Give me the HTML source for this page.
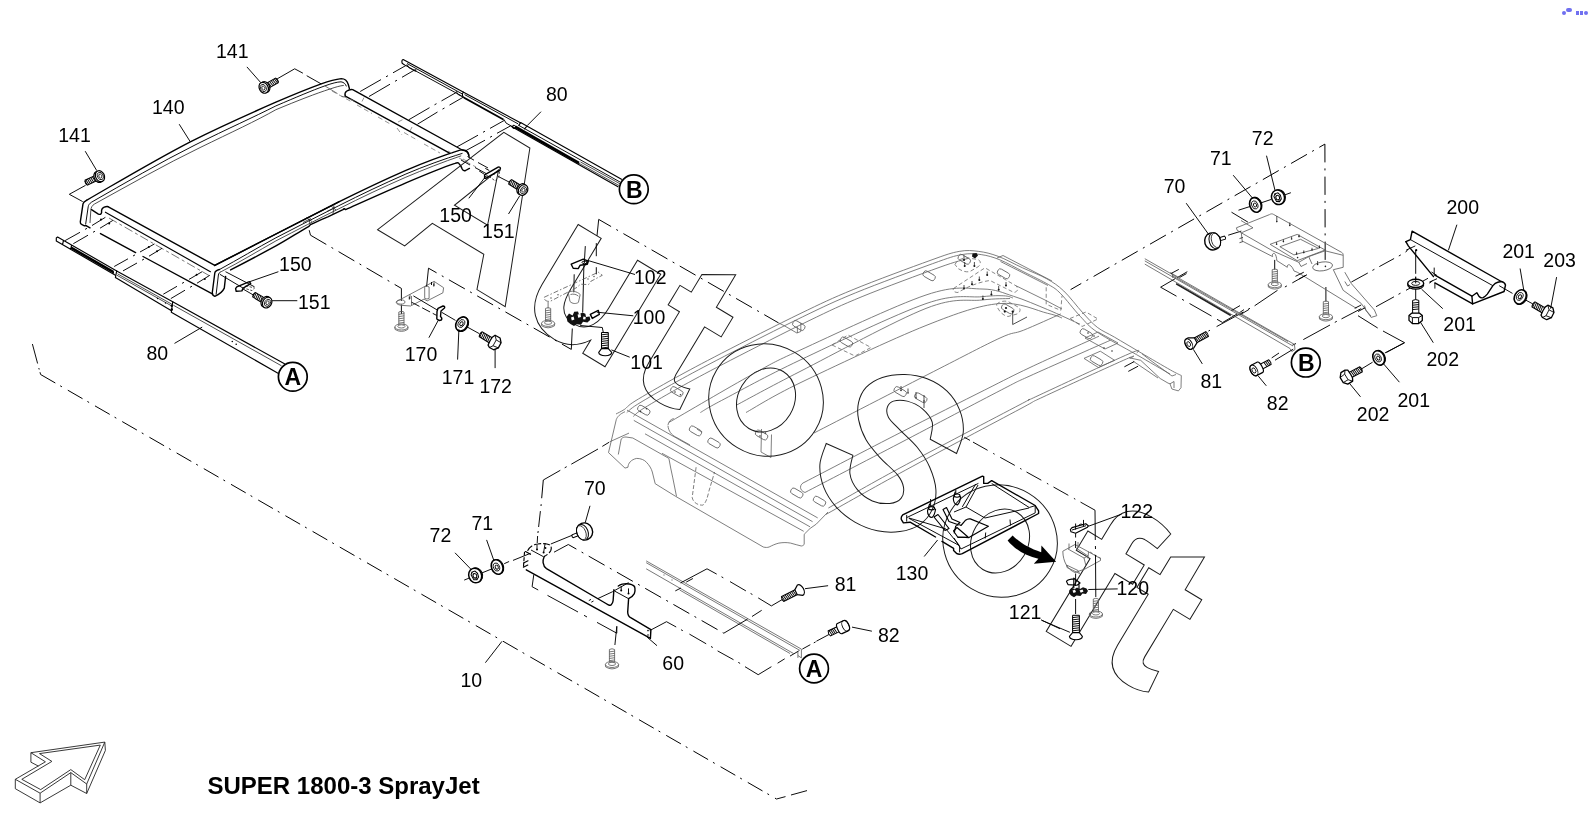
<!DOCTYPE html>
<html><head><meta charset="utf-8"><title>SUPER 1800-3 SprayJet</title>
<style>
html,body{margin:0;padding:0;background:#fff;}
body{width:1589px;height:822px;overflow:hidden;font-family:"Liberation Sans",sans-serif;}
svg{display:block;position:absolute;left:0;top:0;}
svg text{font-family:"Liberation Sans",sans-serif;}
svg{will-change:transform;}
.k{fill:none;stroke:#000;stroke-width:.95;stroke-linecap:butt;stroke-linejoin:round}
.t{fill:none;stroke:#000;stroke-width:1.4;stroke-linecap:round;stroke-linejoin:round}
.m{fill:none;stroke:#000;stroke-width:1.15;stroke-linecap:round;stroke-linejoin:round}
.n{fill:none;stroke:#222;stroke-width:0.8}
.g{fill:none;stroke:#606060;stroke-width:0.85}
.gd{fill:none;stroke:#7a7a7a;stroke-width:0.8;stroke-dasharray:5 3}
.w{fill:none;stroke:#222;stroke-width:1}
.dd{fill:none;stroke:#000;stroke-width:1;stroke-dasharray:17 5.6 2 6.8}
.cd{fill:none;stroke:#000;stroke-width:1;stroke-dasharray:18.3 6 2 6.2}
.lb{font-size:19.5px;fill:#000}
</style></head><body>
<svg width="1589" height="822" viewBox="0 0 1589 822">
<defs>
<!-- pan head screw, head at origin, shaft along +x -->
<g id="scr">
<path d="M3 -2.7 L15 -2.7 Q16.6 0 15 2.7 L3 2.7 Z" fill="#fff" stroke="#000" stroke-width="1"/>
<path d="M6.2 -2.7 L7 2.7 M8 -2.7 L8.8 2.7 M9.8 -2.7 L10.6 2.7 M11.6 -2.7 L12.4 2.7 M13.4 -2.7 L14.2 2.7 M15 -2.5 L15.6 2" fill="none" stroke="#000" stroke-width=".9"/>
<ellipse cx="1.6" cy="0" rx="4.2" ry="5.7" fill="#fff" stroke="#000" stroke-width="1.2"/>
<ellipse cx="-0.2" cy="0" rx="4.4" ry="5.7" fill="#fff" stroke="#000" stroke-width="1.2"/>
<ellipse cx="-0.6" cy="0" rx="2.8" ry="3.8" fill="none" stroke="#000" stroke-width=".8"/>
<path d="M-2.2 0 L-1.4 -1.9 L0.2 -1.9 L1 0 L0.2 1.9 L-1.4 1.9 Z" fill="none" stroke="#000" stroke-width=".7"/>
</g>
<!-- hex bolt, head at origin, shaft along +x -->
<g id="hexb">
<path d="M4 -2.9 L17 -2.9 Q18.6 0 17 2.9 L4 2.9 Z" fill="#fff" stroke="#000" stroke-width="1"/>
<path d="M7.2 -2.9 L8 2.9 M9 -2.9 L9.8 2.9 M10.8 -2.9 L11.6 2.9 M12.6 -2.9 L13.4 2.9 M14.4 -2.9 L15.2 2.9 M16.2 -2.8 L17 2.4" fill="none" stroke="#000" stroke-width=".9"/>
<path d="M5 -5.4 L5.6 -1 L5.6 3.5 L4.2 6.6 L-1.5 6.9 L-4.8 3.4 L-5.2 -2.4 L-2.2 -6.5 L2.6 -6.8 Z" fill="#fff" stroke="#000" stroke-width="1.3" stroke-linejoin="round"/>
<path d="M2.6 -6.8 L0.4 -3.4 L0.8 3.2 L4.2 6.6 M0.4 -3.4 L-5.2 -2.4 M0.8 3.2 L-4.8 3.4" fill="none" stroke="#000" stroke-width=".8"/>
</g>
<!-- washer seen from side-ish -->
<g id="wash">
<ellipse cx="1" cy="0" rx="5.4" ry="7.4" fill="#fff" stroke="#000" stroke-width="1.1"/>
<ellipse cx="0" cy="0" rx="5.6" ry="7.5" fill="#fff" stroke="#000" stroke-width="1.6"/>
<ellipse cx="-0.6" cy="-0.2" rx="3" ry="4.2" fill="none" stroke="#000" stroke-width=".8"/>
<ellipse cx="-0.4" cy="0" rx="1.5" ry="2.1" fill="none" stroke="#000" stroke-width=".9"/>
</g>
<!-- flange nut -->
<g id="nut">
<ellipse cx="1.2" cy="0" rx="6.2" ry="7.3" fill="#fff" stroke="#000" stroke-width="1.1"/>
<ellipse cx="0" cy="0" rx="6.4" ry="7.4" fill="#fff" stroke="#000" stroke-width="1.5"/>
<path d="M-3.6 -2 L-1.8 -4.4 L1.4 -4.2 L3 -1.2 L2.6 2.6 L0 4.6 L-2.8 3.4 Z" fill="none" stroke="#000" stroke-width="1"/>
<ellipse cx="-0.4" cy="0.2" rx="1.8" ry="2.3" fill="none" stroke="#000" stroke-width="1"/>
<path d="M-1.8 -4.4 L-0.8 -2 M3 -1.2 L1.2 -0.4 M0 4.6 L-0.2 2.4" fill="none" stroke="#000" stroke-width=".7"/>
</g>
<!-- rubber buffer, stud towards +x -->
<g id="buf">
<path d="M5 -1.6 L13 -1.6 Q14.2 0 13 1.6 L5 1.6 Z" fill="#fff" stroke="#000" stroke-width="1"/>
<ellipse cx="0" cy="0" rx="7.8" ry="8.6" fill="#fff" stroke="#000" stroke-width="1.4"/>
<ellipse cx="2.4" cy="0" rx="5.6" ry="8.2" fill="#fff" stroke="#000" stroke-width="1"/>
<ellipse cx="3.6" cy="0" rx="4.4" ry="7.4" fill="none" stroke="#000" stroke-width=".7"/>
</g>
<!-- gray vertical self tapping screw, tip at top (0,0), head at bottom -->
<g id="gscr" fill="none" stroke="#606060" stroke-width=".85">
<path d="M-2.6 0 L-2.6 13 M2.6 0 L2.6 13 M-2.6 0 Q0 -1.5 2.6 0 M-2.8 2.4 L2.8 1.6 M-2.8 4.6 L2.8 3.8 M-2.8 6.8 L2.8 6 M-2.8 9 L2.8 8.2 M-2.8 11.2 L2.8 10.4"/>
<ellipse cx="0" cy="15" rx="6.6" ry="3"/><path d="M-6.6 15 L-6.4 17.4 Q0 21.4 6.4 17.4 L6.6 15"/><ellipse cx="0" cy="14.4" rx="3.6" ry="1.6"/>
</g>
</defs>
<!-- boundary 10 -->
<g id="boundary">
<path class="k" d="M32.4 344 L37.6 363.5 M38.8 368 L39.2 369.5 M40 372.2 L40.6 374.5"/>
<path class="dd" d="M40.6 374.5 L776.5 799" />
<path class="k" d="M776.5 799 L785.5 796.6 M791 795 L807 790.6"/>
</g>
<!-- window frame 140 -->
<g id="window">
<!-- back (upper) arc -->
<path class="t" d="M86.5 200.3 C120 181 155 160 190.3 141.8 C225 124.5 250 113.5 275.9 102.2 C296 93.5 310 88 321.2 83.9 C330 80.7 336 79.2 341.3 78.6 C344.5 78.6 347 80.5 348.3 84.5 L349.3 88.3"/>
<path class="k" d="M91.5 202.2 C125 183 160 162.5 195 145 C228 128.5 253 117.5 275.9 105.9 C296 97.3 312 90.5 325 85.8 C332 83.3 337 82 341 81.8 C344 82.3 345.5 84 346.4 86.4"/>
<path class="n" d="M94.5 204 C130 184.5 165 164.5 200 147.6 C232 132 256 121 275.9 109.7 C298 100.5 316 93.5 330 89 C336 87 340 85.8 343.8 85.4"/>
<!-- left leg of back-left corner -->
<path class="t" d="M86.5 200.3 C84.5 201.3 83.3 202.3 83 203.8 L80.3 221.8 C80.1 223.2 80.7 224 82 224.6 L84.5 225.8 L86 225.6"/>
<path class="k" d="M91.5 202.2 C89.5 203.6 88.4 205 88.2 206.8 L85.6 224.5"/>
<path class="n" d="M94.5 204 C92 205.5 91 207.5 90.8 210.5 L90 223"/>
<!-- notch to left bar -->
<path class="t" d="M91.5 209.7 L98.4 214.1 C100 214.7 101.3 214.5 101.6 212.3 C101.2 209.8 102.2 208.2 104.2 207.2 C106 206.4 107.2 206.3 107.9 206.6"/>
<!-- left bar -->
<path class="t" d="M107.9 206.6 L214.8 265.4"/>
<path class="m" d="M105.4 212.2 L210.4 271.7"/>
<path class="g" d="M109 218 L209 275.5" stroke-dasharray="9 3 3 3"/>
<!-- left face bottom edge -->
<path class="t" d="M86 225.6 L90 227.8 M100.5 233.6 L135.6 252.6 M143 256.5 L212.3 293.8"/>
<!-- front-left leg -->
<path class="t" d="M214.8 265.4 L338.8 201.9"/>
<path class="t" d="M219.5 269.5 C216.5 270.3 215 271.3 214.8 273 L212.3 292.5 C212.2 294.6 213.2 295.8 214.8 296.3 C219 294.5 222.5 292 224.3 288.1 L225.6 276.5"/>
<path class="k" d="M221.5 271.5 C219.5 272.3 218.6 273.3 218.4 275 L216.1 294.6"/>
</g>
<g id="window2">
<!-- front arc -->
<path class="t" d="M214.8 265.4 C235 255 255 244.6 275.9 234 C297 223.2 318 212.4 338.8 201.9 C361 190.8 383 180.3 405.9 170.3 C424 162.6 443 155.5 460 150.1 C463.5 149.5 466 150 467.5 152 L468.8 155.2"/>
<path class="k" d="M219.5 269.5 C238 259.5 257 248 275.9 237.8 C297 227 318 216 338.8 205.7 C361 194.5 383 184 405.9 174 C424 166.3 444 159 462.5 153.3"/>
<path class="n" d="M221.5 271.5 C240 262 258 251 275.9 240.9 C297 230 318 219 338.8 208.8 C361 197.6 383 187.1 405.9 177.2 C424 169.5 443 162 461.2 155.8"/>
<path class="t" d="M230.6 269.9 C246 262 261 254 275.9 245.9 C287 240 298 232.5 309 226.3 L310.2 224.8 C317 221.5 322 219 327.8 216.8 L343 209.6 L344.2 208.6 L345.6 209.6 C366 200.5 386 191.5 405.9 182.9 C423 175.6 440 168.5 455 163.4 C457 162.6 458.2 162.6 458.9 163.4 C460.5 165 461.5 167 462.2 169 C462.8 170.5 464 171 465.6 170.5 L469.4 168.4"/>
<!-- small clip marks on front arc -->
<path class="n" d="M303 222.5 L311 218.5 M306 217.5 L312 221.5 M309 219 L310 224 M327 211.5 L335 207.5 M331 206 L336 210 M334 205.5 L333 214"/>
<!-- right bar -->
<path class="t" d="M345.3 96.2 C344.6 94 345 92.3 346.5 91.2 C348.5 89.8 350.7 89.2 352.7 89.6 L462.2 150 C465.5 150.6 467.8 152 468.5 153.8 L469.1 156.9"/>
<path class="t" d="M345.3 96.2 L449.6 153.1"/>
<!-- hidden gray lines under right bar -->
<path class="gd" d="M332 91 L352 102 M357 105 L372 113.5 M378 117 L392 125 M397 128 L402 135 M404 132.5 L418 140.5 M424 144 L440 153" />
<path class="gd" d="M350 99 L356 102.5 M364 97.5 L362 101.5 M398 122 L404 119 M412 127 L410 131 M448 151 L456 155.5 M463 159 L470 163 M459 158 L476 167"/>
<!-- lines from right corner to bracket150 -->
<path class="k" d="M467.5 156.5 L474 160.2 M478 162.5 L488 168 M461 160 L470 165 M475 167.5 L486 173.5" />
</g>
<g id="rails">
<!-- lower-left rail 80 -->
<path class="m" d="M57.6 237 L116.7 270.9 M56.3 240.9 L115.4 275.3 M57.6 237 L56.3 238 L56.3 240.9 M63.5 240.3 L62.6 244.3 M71.6 245 L70.8 249"/>
<path d="M71.2 246.2 L113.8 270.8 L114.2 274 L70.9 249 Z" fill="#000"/>
<path class="m" d="M116.7 270.9 L172.7 301.8 M115.4 277.6 L171.5 310.8 M116.7 270.9 L115.4 277.6"/>
<path class="n" d="M117.5 273.8 L171.8 304.2 M117 275.3 L171.4 305.8"/>
<path class="m" d="M172.7 301.8 L284.5 363.8 M171.3 312.3 L278 373.2 M172.7 301.8 L171.3 312.3"/>
<path class="n" d="M173.3 305.2 L281.5 365.8"/>
<circle cx="157.5" cy="298.5" r=".7"/><circle cx="165.5" cy="303" r=".7"/><circle cx="171.8" cy="305.8" r="1.2"/><circle cx="171.8" cy="309.5" r="1.2"/>
<circle cx="232.3" cy="341.5" r=".8"/><circle cx="236.2" cy="344.3" r=".8"/>
<!-- centre lines rail -> window left bar -->
<g class="k">
<path d="M65.1 240.6 L80 232.3 M85 229.4 L87 228.3 M92 225.5 L105.4 217.3"/>
<path d="M73.3 243.7 L88 235.2 M93 232.3 L95 231.2 M100 228.2 L112.9 220.4"/>
<path d="M114.2 266.5 L128 258.8 M133 256 L135 254.9 M140 252 L154.5 243.9"/>
<path d="M123 270.9 L137 263 M142 260.2 L144 259.1 M149 256.2 L162 248.3"/>
<path d="M163.3 294.2 L177 286.3 M182 283.4 L184 282.3 M189 279.4 L202.3 271.6"/>
<path d="M170.8 298.6 L185 290.2 M190 287.3 L192 286.2 M197 283.2 L209.8 275.3"/>
</g>
<circle cx="101" cy="219.4" r="1"/><circle cx="109.2" cy="223.4" r="1"/><circle cx="148.8" cy="247" r="1"/><circle cx="157" cy="251.2" r="1"/><circle cx="196.6" cy="274.7" r="1"/><circle cx="204.8" cy="279" r="1"/>
<!-- upper-right rail 80 -->
<path class="m" d="M403.2 59.5 L463.6 92.2 M403.2 59.5 C401.8 59.8 401.6 61.5 402.2 63.2 L404 64.6"/>
<path class="k" d="M404 64.6 L461.7 96 M407 63.5 L462 93.8"/>
<path class="k" d="M407.3 64.8 L408.8 67.6 L415.5 71.3 L416 69.6 M456.2 91.2 L457.8 94.3 L464 97.6"/>
<path class="m" d="M463.6 92.2 L520.9 123 M463.6 92.2 C462.3 92.8 462.2 94.5 462.8 96.6"/>
<path class="k" d="M464.6 94.6 L518 123.8"/>
<path d="M463.3 96.3 L503.8 118.7 L503.4 120.6 L463.6 98.6 Z" fill="#000"/>
<path class="k" d="M504 119.5 L506 123 L512.5 126.8 L513.5 124.8 M512.5 126.8 L516 128.6"/>
<path class="m" d="M520.6 122.6 L621.5 179.3 M520.6 122.6 L518.8 125.4 M527 126.2 L524.5 128.9"/>
<path class="k" d="M518.8 125.4 L620 182"/>
<path d="M515.8 125.6 L579.5 161.8 L578.6 164.2 L514.6 128.1 Z" fill="#000"/>
<path class="m" d="M511.5 126.5 L618 186.8"/>
<path class="n" d="M579 163.3 L619 185.5 M580.5 162 L620 183.8"/>
<circle cx="514" cy="127" r="1.6" fill="none" stroke="#000" stroke-width=".9"/>
<!-- centre lines rail -> right bar -->
<g class="k">
<path d="M406.8 65 L393 72.8 M388 75.7 L386 76.8 M381 79.6 L360.2 91.5"/>
<path d="M415.6 69.4 L402 77.3 M397 80.2 L395 81.3 M390 84.2 L369 96.5"/>
<path d="M455.9 92.7 L441.5 100.9 M436.5 103.7 L434.5 104.8 M429.5 107.7 L408.7 119.8"/>
<path d="M463.4 97.1 L449.5 105.1 M444.5 108 L442.5 109.1 M437.5 112 L417.5 124.2"/>
<path d="M504.3 120.4 L490 128.4 M485 131.2 L483 132.3 M478 135.2 L457.1 146.8"/>
<path d="M511.2 125.5 L497 133.3 M492 136.2 L490 137.3 M485 140.2 L465.9 150.6"/>
</g>
</g>
<g id="roof" fill="none" stroke="#5e5e5e" stroke-width=".8">
<path d="M616.0 414.0 C617.4 413.2 621.1 411.6 624.3 409.5 C627.5 407.4 626.6 406.3 635.0 401.1 C643.4 395.9 660.0 386.3 674.5 378.3 C689.0 370.3 700.8 364.0 721.7 353.2 C742.6 342.4 778.1 324.3 800.0 313.7 C821.9 303.1 831.4 298.5 853.1 289.6 C874.8 280.7 912.3 266.9 930.0 260.5 C947.7 254.1 951.1 252.9 959.2 251.4 C967.3 249.9 972.2 250.6 978.7 251.4 C985.2 252.2 990.8 253.6 998.1 256.3 C1005.4 259.0 1014.4 264.1 1022.5 267.8 C1030.6 271.6 1039.9 274.9 1046.8 278.8 C1053.7 282.7 1057.8 285.4 1063.8 291.0 C1069.8 296.6 1077.1 306.6 1082.7 312.7 C1088.3 318.8 1092.0 323.2 1097.3 327.3 C1102.6 331.4 1107.1 332.8 1114.4 337.1 C1121.7 341.4 1131.8 347.4 1141.1 352.9 C1150.4 358.4 1163.6 366.1 1170.3 369.9 C1177.0 373.7 1179.5 374.6 1181.3 375.5"/>
<path d="M626.8 412.7 C628.6 411.3 629.1 409.5 637.5 404.3 C645.9 399.1 662.5 389.5 677.0 381.5 C691.5 373.5 703.3 367.2 724.2 356.4 C745.1 345.6 780.6 327.5 802.5 316.9 C824.4 306.3 833.9 301.7 855.6 292.8 C877.3 283.9 914.8 270.1 932.5 263.7 C950.2 257.3 953.6 256.1 961.7 254.6 C969.8 253.1 974.8 253.7 981.2 254.6 C987.6 255.5 992.9 257.0 1000.0 259.9 C1007.1 262.8 1015.9 267.9 1024.0 272.0 C1032.1 276.1 1042.6 281.1 1048.7 284.7 C1054.8 288.3 1055.5 288.5 1060.8 293.8 C1066.1 299.1 1074.2 310.0 1080.3 316.4 C1086.4 322.8 1088.0 325.8 1097.3 332.2 C1106.6 338.6 1124.2 347.5 1136.3 354.5 C1148.4 361.5 1164.4 370.8 1170.0 374.0"/>
<path d="M633.3 416.5 C635.1 415.1 635.6 413.3 644.0 408.1 C652.4 402.9 669.0 393.3 683.5 385.3 C698.0 377.3 709.8 371.0 730.7 360.2 C751.6 349.4 787.1 331.3 809.0 320.7 C830.9 310.1 840.4 305.5 862.1 296.6 C883.8 287.7 921.3 273.9 939.0 267.5 C956.7 261.1 963.3 259.9 968.2 258.4"/>
<path d="M669.0 422.4 C682.9 414.4 730.3 386.5 752.1 374.5 C773.9 362.5 771.0 363.4 800.0 350.2 C829.0 336.9 895.7 305.2 926.0 295.0 C956.3 284.8 967.4 288.8 982.0 289.0 C996.6 289.2 1002.7 292.9 1013.6 296.3 C1024.5 299.7 1036.5 305.0 1047.6 309.6 C1058.7 314.2 1074.6 321.8 1080.0 324.2"/>
<path d="M700.4 412.5 C704.0 410.5 705.1 409.1 721.7 400.4 C738.3 391.7 766.0 376.2 800.0 360.1 C834.0 344.0 895.7 314.2 926.0 303.6 C956.3 293.0 969.0 298.0 982.0 296.7 C995.0 295.4 998.6 295.6 1003.8 295.8 C1009.0 296.0 1011.5 297.6 1013.0 298.0"/>
<path d="M736.9 404.9 C747.4 399.3 768.5 387.6 800.0 371.5 C831.5 355.4 895.7 320.3 926.0 308.4 C956.3 296.5 968.0 301.6 982.0 300.0 C996.0 298.4 1005.3 298.8 1010.0 298.5"/>
<path d="M746.0 412.5 C755.0 407.6 770.0 397.4 800.0 382.9 C830.0 368.4 892.8 338.7 926.0 325.5 C959.2 312.3 978.7 305.6 999.0 303.6 C1019.3 301.6 1037.1 310.9 1047.6 313.3 C1058.1 315.7 1059.6 317.2 1062.0 318.0"/>
<path d="M814.0 433.0 C833.9 422.8 902.3 387.5 933.3 371.7 C964.3 355.9 985.0 344.9 1000.0 338.0 C1015.0 331.1 1013.2 334.3 1023.3 330.3 C1033.4 326.3 1054.5 316.6 1060.8 313.9"/>
<path d="M805.0 482.0 C820.8 473.8 870.0 448.1 900.0 432.8 C930.0 417.5 963.0 400.9 984.7 390.0 C1006.4 379.1 1011.0 376.5 1030.0 367.5 C1049.0 358.5 1087.5 341.4 1099.0 336.2"/>
<path d="M805.0 492.5 C820.8 484.2 867.3 460.1 900.0 443.0 C932.7 425.9 979.5 401.2 1001.2 390.0 C1022.9 378.8 1011.8 384.2 1030.0 375.9 C1048.2 367.6 1097.2 346.1 1110.7 340.1"/>
<path d="M828.4 508.0 C840.3 501.3 868.1 485.1 900.0 467.9 C931.9 450.7 997.5 416.4 1020.0 404.6 C1042.5 392.8 1017.0 405.5 1035.2 397.0 C1053.4 388.5 1112.1 361.1 1129.0 353.8 C1145.9 346.5 1135.5 353.3 1136.8 353.2"/>
<path d="M826.0 514.4 C839.3 507.0 873.5 487.6 905.8 470.0 C938.1 452.4 997.1 421.2 1020.0 409.0 C1042.9 396.8 1025.3 405.3 1043.0 397.0 C1060.7 388.7 1111.9 365.4 1126.4 359.0 C1141.0 352.6 1129.7 358.5 1130.3 358.4"/>
<path d="M805 482 C799 484 799 490.5 805 492.5 M1084 358.4 L1100.3 351.2 L1114.6 360.3 L1098.4 367.5 Z"/>
<path d="M625 411.7 C620 414 617.5 416.5 616.3 419.5 L608.5 452.6 L625 468.1 L628 467.2 C628 463.5 631 459.5 636.7 458.4 C641 458.4 644.5 460 646.5 462.3 C649.5 465.5 651.3 468.5 652.3 472 L655.2 483.7 L675.7 496.4 L763.3 547 C765.5 547.6 767.5 547.6 769.1 547 C772 545.6 775 544 778.9 543.1 C783 542.4 787 542.4 790.6 543.1 C794.5 544 798 545.4 801.3 546 C803 545.8 804 545 804.2 544.1 L804.2 534.3 L810 528.5 L816.3 524.1 L828 512"/>
<path d="M668.9 458.4 C670 465 671.3 471 672.8 477.9 L676.5 496.4"/>
<path d="M609.5 441.9 L629 433.1 M618.3 454.5 L621.2 439 C622.5 437.5 624 437 626 437 L632.8 438 L668.9 458.4"/>
<path d="M627.0 410.1 L817.7 517.9"/>
<path d="M633.8 420.4 L812.6 521.7"/>
<path d="M645.0 433.8 L810.0 526.8"/>
<path d="M662.0 453.3 L803.7 531.3"/>
<path d="M667.9 425.3 C668.5 421.5 670.5 419.5 673.7 418.5 M668 426 C668.5 431 671.5 435 675.7 437 L690 445 M697.1 429.2 L702 432.2"/>
<path stroke-dasharray="4 2" d="M696.1 467.2 L692.2 497.4 C693 502.5 698 505.5 702.9 505.1 C705.5 503.5 707.5 498 708.8 491.5 L714.6 472"/>
<rect x="637.3" y="407.2" width="13.0" height="6.0" rx="2.5" transform="rotate(30 643.8 410.2)"/>
<rect x="670.3" y="388.6" width="13.0" height="6.0" rx="2.5" transform="rotate(30 676.8 391.6)"/>
<rect x="689.0" y="427.9" width="13.0" height="6.0" rx="2.5" transform="rotate(30 695.5 430.9)"/>
<rect x="707.5" y="440.0" width="13.0" height="6.0" rx="2.5" transform="rotate(30 714.0 443.0)"/>
<rect x="755.1" y="432.0" width="13.0" height="6.0" rx="2.5" transform="rotate(30 761.6 435.0)"/>
<rect x="792.3" y="322.5" width="13.0" height="6.0" rx="2.5" transform="rotate(30 798.8 325.5)"/>
<rect x="839.9" y="339.0" width="13.0" height="6.0" rx="2.5" transform="rotate(30 846.4 342.0)"/>
<rect x="922.6" y="272.8" width="13.0" height="6.0" rx="2.5" transform="rotate(30 929.1 275.8)"/>
<rect x="957.8" y="256.3" width="13.0" height="6.0" rx="2.5" transform="rotate(30 964.3 259.3)"/>
<rect x="1001.2" y="305.9" width="13.0" height="6.0" rx="2.5" transform="rotate(30 1007.7 308.9)"/>
<rect x="997.0" y="270.8" width="13.0" height="6.0" rx="2.5" transform="rotate(30 1003.5 273.8)"/>
<rect x="893.7" y="388.6" width="13.0" height="6.0" rx="2.5" transform="rotate(30 900.2 391.6)"/>
<rect x="914.3" y="394.8" width="13.0" height="6.0" rx="2.5" transform="rotate(30 920.8 397.8)"/>
<rect x="1079.8" y="330.7" width="13.0" height="6.0" rx="2.5" transform="rotate(30 1086.3 333.7)"/>
<rect x="1090.1" y="357.6" width="13.0" height="6.0" rx="2.5" transform="rotate(30 1096.6 360.6)"/>
<rect x="790.3" y="490.0" width="13.0" height="6.0" rx="2.5" transform="rotate(30 796.8 493.0)"/>
<rect x="813.0" y="498.2" width="13.0" height="6.0" rx="2.5" transform="rotate(30 819.5 501.2)"/>
<path d="M1129 357.7 L1140.7 360.3 L1160.2 378.5 L1168 383.1 L1170 383.8 L1171.9 389 L1178.4 390.9 L1181 387.7 L1181.3 375.5 M1132.9 361 L1158 378 M1142 353.8 L1150 360 L1172 376 L1176 374.5 M1170 383.8 L1174 381.5 L1174 388"/>
</g>
<g id="roofdetail">
<g fill="#111">
<circle cx="964" cy="260" r="1"/><circle cx="964.7" cy="266" r="1"/><circle cx="974.4" cy="266" r="1"/><circle cx="987.2" cy="275.1" r="1"/><circle cx="979.3" cy="280" r="1"/><circle cx="972" cy="284.3" r="1"/><circle cx="964" cy="288.5" r="1"/><circle cx="1006" cy="285.5" r="1"/><circle cx="998.7" cy="289.7" r="1"/><circle cx="991.4" cy="294.6" r="1"/><circle cx="982.9" cy="298.9" r="1"/><circle cx="1006" cy="308" r="1.1"/><circle cx="1004.8" cy="311.6" r="1.1"/><circle cx="1012.7" cy="311.6" r="1.1"/>
<path d="M972.5 253.5 L976.5 253 L978 255.5 L975 258.5 L972 256.5 Z"/>
</g>
<path class="n" d="M964 255.5 L964 260 M964.7 262 L964.7 266 M974.4 262 L974.4 266 M987.2 271.5 L987.2 275.1 M979.3 276.5 L979.3 280 M972 281 L972 284.3 M964 285 L964 288.5 M1006 282 L1006 285.5 M998.7 286 L998.7 289.7 M991.4 291 L991.4 294.6 M982.9 295.5 L982.9 298.9 M1012.7 311.6 L1012.7 324.5 L1027 317"/>
<g fill="none" stroke="#6a6a6a" stroke-width=".8" stroke-dasharray="4 2.5">
<path d="M955 264.5 C957 260 963 257.5 968 258 L978 259.5 C981 261 981 264 978.5 266.5 L970 271.5 C966 272.5 962 271 958 268.5 Z"/>
<path d="M953.5 288.5 L985 267.8 L1015.5 285.5 C1019 288.5 1018 291.5 1014 292.5 L990 280.5 C978 282 965 288 958 292.5 C954.5 292.5 952.5 291 953.5 288.5 Z"/>
<path d="M996.5 304.5 C999 301.5 1004 300.5 1008 301.5 L1019 307.5 C1021 309.5 1020 312.5 1017 314 L1008 316.5 C1003 315.5 998 311 996.5 304.5 Z"/>
<path d="M1046.2 287.3 L1046.2 304.3 L1060.8 310.4 L1062 295.8"/>
<path d="M832 345 L848 335 L871 347.5 L855 356 Z"/>
<path d="M1070 318.5 L1086 312 L1098 319 L1082 326.5 Z"/>
</g>
<g fill="none" stroke="#606060" stroke-width=".8">
<path d="M997 258 L1003 255.5 L1052 281 M1000.5 261.5 L1048 285.5 M1015.5 285.5 L1046 300.5 L1062 309 M784.2 325.7 L796.9 333 L800.8 331.5 L800.8 322.8 M797.4 326.7 L797.4 333 M778.4 322.8 L784.2 325.7"/>
<path d="M761.5 429 L761 452 M771.5 434.5 L771 457.5 M761 452 L771 457.5"/>
<path d="M1085 338 L1105 349 L1118 343 L1098 332 Z"/>
</g>
<g fill="#333"><circle cx="640.5" cy="411.5" r=".8"/><circle cx="646.5" cy="408.8" r=".8"/><circle cx="675" cy="392" r=".8"/><circle cx="680.5" cy="394.8" r=".8"/><circle cx="760" cy="436" r=".8"/><circle cx="765.5" cy="433" r=".8"/><circle cx="901" cy="390.5" r=".8"/><circle cx="908" cy="393" r=".8"/><circle cx="916" cy="398" r=".8"/><circle cx="924" cy="401" r=".8"/><circle cx="1088" cy="333" r=".8"/><circle cx="1094" cy="336" r=".8"/><circle cx="1104" cy="348" r=".8"/><circle cx="1112" cy="351" r=".8"/></g>
<path class="n" d="M901 386 L901 390.5 M908 388.5 L908 393 M916 392 L916 398 M924 395 L924 408"/>
</g>
<g id="watermark" transform="translate(377.6 229.7) rotate(31.07)" fill="none" stroke="#1c1c1c" stroke-width="1">
<path d="M0.0 0.0 L31.6 0.0 L43.6 -33.7 L103.7 -33.7 L116.0 0.0 L149.0 0.0 L88.3 -148.5 L57.9 -148.5 Z M72.8 -113.6 L53.2 -60.6 L91.9 -60.6 Z"/>
<path d="M169.1 -108 L196 -108 L196 -50 C196 -36 198 -20.5 217 -20.5 C233 -20.5 238.4 -36 238.4 -52 L238.4 -108 L265.5 -108 L265.5 0 L239.5 0 L239.5 -15.4 C232 -4 222 2.8 208 2.8 C184 2.8 169.1 -12 169.1 -38 Z"/>
<path d="M300.9 -129 L329.9 -146.3 L330.2 -108.4 L349.6 -108.4 L349.6 -85.5 L330.2 -85.5 L330.2 -30 C330.2 -24 333.0 -22 338.0 -22.2 C342.0 -22.4 346.0 -23.5 349.6 -24.7 L351.7 -1.9 C345.0 1.5 338.0 2.8 331.0 2.8 C312.0 2.8 300.9 -6 300.9 -26 L300.9 -85.5 L287.7 -85.5 L287.7 -108.4 L300.9 -108.4 Z"/>
<path d="M581.5 -105.7 L611.4 -107.1 C610.5 -110.7 609.5 -122.2 606.2 -128.7 C602.9 -135.2 597.4 -141.5 591.5 -146.0 C585.6 -150.5 578.4 -153.9 571.1 -155.6 C563.8 -157.3 555.1 -157.3 547.6 -156.0 C540.1 -154.7 532.7 -151.7 526.2 -148.0 C519.7 -144.3 513.0 -139.1 508.6 -133.9 C504.2 -128.7 501.1 -122.6 499.8 -117.0 C498.6 -111.4 499.4 -105.6 501.1 -100.3 C502.8 -95.0 505.9 -90.0 510.2 -85.3 C514.5 -80.6 520.6 -75.6 526.8 -72.1 C533.0 -68.6 540.1 -66.5 547.6 -64.2 C555.1 -61.9 565.7 -60.6 571.6 -58.4 C577.5 -56.2 580.7 -54.0 583.3 -50.9 C585.9 -47.8 587.5 -43.5 587.0 -40.0 C586.5 -36.5 583.9 -32.7 580.0 -29.9 C576.1 -27.1 569.5 -23.8 563.7 -23.0 C557.9 -22.2 550.7 -22.9 545.1 -24.9 C539.5 -26.9 534.0 -30.4 530.4 -34.9 C526.8 -39.4 524.6 -49.2 523.5 -52.1 L494.6 -48.4 C495.5 -44.8 496.7 -33.5 500.1 -27.0 C503.5 -20.6 509.0 -14.3 515.0 -9.7 C521.0 -5.0 528.5 -1.4 536.0 0.9 C543.5 3.2 551.8 4.2 559.7 4.1 C567.6 3.9 576.2 2.5 583.4 0.0 C590.6 -2.5 597.6 -6.4 603.1 -10.9 C608.6 -15.4 613.8 -21.3 616.5 -27.2 C619.2 -33.1 620.2 -40.1 619.5 -46.5 C618.8 -52.9 616.4 -59.6 612.4 -65.4 C608.4 -71.2 601.8 -77.0 595.5 -81.5 C589.2 -86.0 582.0 -89.3 574.5 -92.1 C567.0 -94.9 557.3 -96.3 550.6 -98.1 C543.9 -99.9 538.2 -100.8 534.5 -102.9 C530.8 -105.0 529.0 -108.0 528.3 -110.8 C527.6 -113.5 528.0 -116.8 530.3 -119.4 C532.6 -122.0 537.4 -125.1 542.1 -126.5 C546.9 -127.9 553.4 -128.7 558.8 -127.8 C564.2 -126.9 570.6 -125.0 574.4 -121.3 C578.2 -117.6 580.3 -108.3 581.5 -105.7 Z"/>
<path d="M780 -1 L809 -1 L809 -86 L829.7 -86 L829.7 -108.5 L808.3 -108.5 L808 -120 C808 -127 811 -130 817 -130.5 C822 -130.7 827 -130 832.5 -129.2 L836.4 -148.7 C828 -152 819 -153.5 810.5 -153.3 C790 -153 780 -142 780 -125 L780 -108.5 L763.9 -108.5 L763.9 -86 L780 -86 Z"/>
<path d="M848.2 -129 L877.2 -146.3 L877.5 -108.4 L896.9 -108.4 L896.9 -85.5 L877.5 -85.5 L877.5 -30 C877.5 -24 880.3 -22 885.3 -22.2 C889.3 -22.4 893.3 -23.5 896.9 -24.7 L899.0 -1.9 C892.3 1.5 885.3 2.8 878.3 2.8 C859.3 2.8 848.2 -6 848.2 -26 L848.2 -85.5 L835.0 -85.5 L835.0 -108.4 L848.2 -108.4 Z"/>
<ellipse cx="420.6" cy="-54.6" rx="57.8" ry="55.6"/><ellipse cx="420.6" cy="-54.6" rx="28" ry="33.3"/>
<ellipse cx="693.8" cy="-54.6" rx="57.8" ry="55.6"/><ellipse cx="693.8" cy="-54.6" rx="28" ry="33.3"/>
</g>
<g id="tray130">
<path class="t" d="M901.4 519.6 C900.8 517.5 901 516.6 902.7 514.9 L982.4 476.1 L983.7 476.7 L983.7 483.4 L987.7 483.4 L991.7 480.7 L1035.2 505.5 L1038.6 510.9 L1038.6 513.5 L962.3 553.7 C960 554.5 958.5 554.5 956.9 553.7 L953.6 550.4 L953.6 548.4 L942 541.4 M935.5 537 L910.1 522.2 L903.4 522.9 L901.4 519.6"/>
<path class="k" d="M906.7 517.6 L978.4 483.4 M991.7 483.5 L1029.2 507.5 M1035.2 512.9 L961 549 M908.7 518.2 L959.6 545.7 M906.7 514.9 L906.7 521.6 M959.6 545.7 L959.6 552.4 M1035.2 505.5 L1035.2 512.9 M1029.2 507.5 L1035 505.7"/>
<path class="k" d="M909 518 L946 529 M975.7 484 L962.3 506.9 M978 485 L966 507 L954 512 M966 507 L985 518 M985 518 L1029 508 M1010 519.5 L1010.5 525.5 M985.7 532.5 L985.2 538.5 M961 549 L954 538 M946 529 L959 545"/>
<path class="m" d="M954.3 533 L955.6 526.3 C958 524.5 960 524.5 961 525.5 L965.6 520.2 C967 519 969 518.7 970.3 518.9 L988.4 526.3 L969 537.6 L958 537"/>
<path class="m" d="M929.6 504 L927.5 511 C927.5 514.5 929.5 517.5 932 517.5 C934 516 935 513 935.6 509 M955.2 492 L953.3 498.5 C953.5 502 955 504.5 957.3 505 C959.3 503.5 960.3 500.5 960.6 496.5"/>
<ellipse cx="931.6" cy="508.3" rx="3" ry="1.6" class="m"/><ellipse cx="957" cy="495.6" rx="3" ry="1.6" class="m"/>
<path class="k" d="M930.6 499 L930.6 506.5 M955.8 490 L955.8 494"/>
<path class="m" d="M934 517 L938 514.5 L949 528.5 L945 530.5 Z M943 509.5 L946.5 507.5 L952 519 L960 522.5 L957.5 524.5 L949 521.5 Z M953.5 531 L957 527.5 L968 537 L958 537.5 Z"/>
<!-- curved arrow -->
<path d="M1007.6 540.4 L1012.6 535.4 C1019 542 1029 548.5 1041.2 552.2 L1041.4 545.6 L1056.2 561.8 L1033.8 563.8 L1038.4 558.8 C1026 556 1015 549.5 1007.6 540.4 Z" fill="#000"/>
</g>
<g id="p120">
<!-- 122 plate -->
<path class="m" d="M1070.4 529.5 L1072 527.6 L1085.8 523.7 L1088.3 525.7 L1087.5 527.3 L1075.6 533.3 L1071 531.8 Z"/>
<path class="k" d="M1072 530 L1086 525.7 M1075.6 523.5 L1075.6 529.6 M1083.5 519.9 L1083.5 526 M1078.5 526 C1079 524 1082 523.5 1083 525"/>
<!-- grey holder -->
<path class="g" stroke="#555" d="M1062.8 551.2 L1075 544.5 L1087 551 L1100.5 558.5 L1100.5 560.5 L1085 569 L1075 572.5 C1068 570 1063 562 1062.8 551.2 Z M1068 549 L1084 558 L1088 556 L1076 548 M1084 558 L1086 566 M1066.5 565 L1078 570.5 L1079.5 573.5 L1067 567.5 Z M1069 543.5 L1069 549 M1078 542 L1078 547 M1088.5 551.5 L1088 558.5"/>
<path class="g" stroke-dasharray="3 2" d="M1090 552 L1101 558.5"/>
<!-- axis -->
<path class="k" d="M1075.6 533.5 L1075.6 537.5 M1075.6 541 L1075.6 548 M1075.6 573.5 L1075.6 586 M1075.6 599 L1075.6 614"/>
<!-- 120 clip -->
<path class="m" d="M1066.5 581.5 C1067.5 579.3 1071 579.5 1074.5 578.7 L1080.1 583 L1077 585.2 L1068 584.6 Z M1073.8 578 L1073.8 588 M1079 582 L1079 589"/>
<path d="M1069.3 590.2 L1071.5 587.8 L1074.5 589.2 L1077 587.4 L1080 589 L1083 587.2 L1086.5 588.4 L1088 591 L1086 594 L1082.5 593.6 L1080.5 596 L1076.5 595.4 L1074 597.2 L1071 595.4 L1069 593 Z" fill="#111"/>
<path d="M1072.5 590.5 L1075 589.8 L1076 592 L1073.5 593 Z M1079.5 590.6 L1082.5 589.6 L1083.5 591.6 L1080.8 592.8 Z" fill="#fff"/>
<!-- 121 screw -->
<path d="M1072.6 615.3 L1079.4 615.3 L1079.4 633 L1072.6 633 Z" fill="#fff" stroke="#000" stroke-width="1"/>
<path class="k" d="M1072.6 617.6 L1079.4 616.8 M1072.6 619.8 L1079.4 619 M1072.6 622 L1079.4 621.2 M1072.6 624.2 L1079.4 623.4 M1072.6 626.4 L1079.4 625.6 M1072.6 628.6 L1079.4 627.8 M1072.6 630.8 L1079.4 630"/>
<path d="M1072.6 632.6 L1069.4 636.4 C1070 640.8 1082 640.8 1082.4 636.4 L1079.4 632.6 Z" fill="#fff" stroke="#000" stroke-width="1.1"/>
<use href="#gscr" x="1095.9" y="599"/>
<!-- vertical dash -->
<path class="k" d="M1095 510.2 L1095.3 540 M1095.4 546 L1095.5 549 M1095.5 555 L1095.8 597" />
</g>
<g id="b60">
<!-- nut, washer, buffer -->
<path class="k" d="M464.2 580.1 L496.5 567 M504.2 563.7 L509.1 561.5 M513 560.4 L530.5 553.3 M573.8 534.6 L550.8 544"/>
<use href="#nut" transform="translate(475.2 575.5) rotate(-22)"/>
<use href="#wash" transform="translate(497.1 567) rotate(-22)"/>
<use href="#buf" transform="translate(584.7 531.4) rotate(158)"/>
<!-- left tab dashed -->
<path class="m" stroke-dasharray="6 3" d="M527.8 550.5 C530 546.5 533.5 544.5 537.6 544 C543 543.2 547.5 543.8 549.7 545 C551.6 546.5 551.6 548.5 550.8 550.5 C549.5 553 547 555 544.2 556.5"/>
<path class="m" stroke-dasharray="3 2.5" d="M524.5 552.2 L523.4 568"/>
<path class="m" d="M525.5 551.6 L530.5 554.3 M523.6 563 L528 560.8 M523.4 567.2 L527.8 565"/>
<path class="k" d="M531 550 L543.1 556.5"/>
<path class="k" d="M537 544.5 L537 549.5 M545.2 543 L543.6 552.5"/>
<circle cx="537" cy="549.6" r="1"/><circle cx="543.6" cy="552.6" r="1"/><circle cx="545.5" cy="548" r=".9"/>
<!-- main body -->
<path class="t" d="M544.2 556.5 C543.2 559 542.8 561 543.1 562.6 C543.5 565.5 544.5 567.3 546.5 568.6 L606 603.5 C608.5 605.2 610.5 606 611.3 604.6 C612.6 603 613 601.8 613.1 600.7 L613.9 589.8"/>
<path class="t" d="M618.3 586 C619.6 585 621 584.4 622.2 584.1 C626 583.6 629.5 583.8 631.7 584.7 C633.6 585.4 634.8 586.6 634.9 587.9 C635.2 590 635 592 634.3 593.6 C633 596 631 597.6 628.6 598.7 L627.7 612 C627.7 615 628.8 616.8 631.1 617.9 L650.9 629.6 L650.4 638.4 L526.3 569.8"/>
<path class="k" d="M598 598.5 L612.6 591.7 L628.6 582.6"/>
<path class="k" d="M614.5 591 L628.6 598.7 M621.2 586 L621.2 590.3 M628.5 588.4 L628.5 593.3 M588.8 600.6 L591 599.4 M591.3 602.2 L593.5 601"/>
<circle cx="621.2" cy="590.4" r="1"/><circle cx="628.5" cy="593.4" r="1"/><circle cx="648" cy="630.6" r=".8"/><circle cx="648" cy="635" r=".8"/>
<!-- dash-dot lines around -->
<path class="k" d="M540.4 511.1 L538.6 527 M538.2 531 L537.9 533 M537.6 536 L537.2 543"/>
<path class="cd" d="M543.3 480 L541 506"/>
<path class="k" d="M554 552.2 L568.3 544.5"/><path class="cd" d="M568.3 544.5 L723.8 633.2" stroke-dashoffset="9"/>

<path class="k" d="M533.8 574.6 L532.1 586.7 L538.2 590 M547.5 595.4 L578 612 M584 615.3 L587 617 M597 622.4 L616.8 633.2 L616.8 626.3 L614.9 645"/>
<use href="#gscr" x="612" y="649.5"/>
<!-- long dash-dot from (543,480) up to roof -->
<path class="k" d="M543.3 480 L560.3 470.3 M564.7 467.8 L566.7 466.7 M571.3 464.2 L598 449 M602.3 446.4 L609 442.3"/>
</g>
<g id="railA">
<path class="g" d="M646.2 560.9 L801.4 649.1 M646.2 562.7 L800 650.5 M646.2 568.8 L793.5 653.5 M679.7 590 L790 653.5 M801.4 649.1 L801.4 657.9 M797.9 651.8 L797.9 657.9 M801.4 657.9 L797.9 655.5"/>
<circle cx="664" cy="575" r=".7" fill="#888"/><circle cx="672" cy="580" r=".7" fill="#888"/>
<g class="k">
<path d="M680.6 582.9 L707 568.8 L716.7 574.1 M721.5 576.8 L723.3 577.8 M730 581.6 L745.9 590.9 M750.6 593.5 L752.4 594.5 M758.2 597.9 L771.4 605.9 L782 599.7"/>
<path d="M675.3 590.9 L680.9 588 M686.2 582.1 L692.9 578.5"/>
<path d="M761.7 610.3 L752 616.5 M747.6 619.1 L723.8 633.2"/>
<path d="M649.7 630.6 L666.5 621.7 L676.2 627 M681 629.7 L682.8 630.7 M689.4 634.1 L706.2 643.8 M711 646.5 L712.8 647.5 M717.6 650.9 L733.5 659.7 M738.3 662.4 L740.1 663.4 M745 666.7 L758.2 674.7 L771.4 666.7 M777.6 663.2 L784.7 658.8 M790 656.1 L798.8 650.9 M802.3 649.1 L810.3 644.7 M813.8 642.9 L815.6 641.9 M816.4 641.2 L829.7 634.1"/>
</g>
<!-- screw 81 (countersunk) -->
<g transform="translate(800.5 590) rotate(153)">
<path d="M3 -2.7 L20 -2.7 Q21.4 0 20 2.7 L3 2.7 Z" fill="#fff" stroke="#000" stroke-width="1"/>
<path d="M6.2 -2.7 L7 2.7 M8 -2.7 L8.8 2.7 M9.8 -2.7 L10.6 2.7 M11.6 -2.7 L12.4 2.7 M13.4 -2.7 L14.2 2.7 M15.2 -2.7 L16 2.7 M17 -2.7 L17.8 2.7 M18.8 -2.7 L19.6 2.7" fill="none" stroke="#000" stroke-width=".9"/>
<path d="M5 -2.7 L0.5 -5.8 C-4.5 -5.8 -4.5 5.8 0.5 5.8 L5 2.7 Z" fill="#fff" stroke="#000" stroke-width="1.2"/>
</g>
<!-- screw 82 (cap) -->
<g transform="translate(844.7 626.2) rotate(155)">
<path d="M3 -2.7 L17 -2.7 Q18.4 0 17 2.7 L3 2.7 Z" fill="#fff" stroke="#000" stroke-width="1"/>
<path d="M9.8 -2.7 L10.6 2.7 M11.6 -2.7 L12.4 2.7 M13.4 -2.7 L14.2 2.7 M15.2 -2.7 L16 2.7" fill="none" stroke="#000" stroke-width=".9"/>
<path d="M5.5 -5.6 L-1 -5.6 C-5.4 -5.6 -5.4 5.6 -1 5.6 L5.5 5.6 C8.4 5.6 8.4 -5.6 5.5 -5.6 Z" fill="#fff" stroke="#000" stroke-width="1.2"/>
<ellipse cx="-1" cy="0" rx="3.3" ry="5.6" fill="none" stroke="#000" stroke-width=".9"/>
</g>
</g>
<g id="ul">
<!-- screws 141 -->
<path class="k" d="M277.1 78.9 L294.7 68.8 L302.9 73.2 M306.7 75.7 L321.2 83.9 M85.6 185.3 L69.3 194.3 L82.7 201.6"/>
<path class="g" d="M325 86 L337.5 93.6 M341.3 96.2 L346.3 97.4"/>
<use href="#scr" transform="translate(263.9 87.7) rotate(-29)"/>
<use href="#scr" transform="translate(99.8 176.3) rotate(155)"/>
<!-- bracket 150 upper + screw 151 -->
<path class="k" d="M479.1 170.9 L484.2 174.2 M485.3 168.4 L489.3 170.5 M498.1 176.4 L509.4 182.2"/>
<path class="t" d="M484.6 174.9 L498.1 167.2 C499.5 166.8 500.3 167.4 500.4 168.2 L499.8 170.4 L489 176.4 L485.8 178.4 L484.6 178.2 Z"/>
<path class="n" stroke-dasharray="2.5 1.5" d="M489 176.4 L495.1 180.8 L498.8 177.1 L499.8 170.4"/>
<circle cx="487" cy="176" r=".8"/><circle cx="494" cy="174" r=".8"/>
<use href="#scr" transform="translate(522.9 189.9) rotate(212)"/>
<!-- bracket 150 lower + screw 151 -->
<path class="k" d="M219.9 274.3 L243.1 288.1 M225.5 271.7 L254.5 286.8 M243 289 L254.5 295.7"/>
<path class="t" d="M236.8 286.8 L249.4 281.6 L250.7 283.7 L243.1 288.1 L241.9 290.9 L236.2 291.3 L235.6 288.7 Z"/>
<path class="n" stroke-dasharray="2.5 1.5" d="M245.7 285.6 L254.5 288.1 L252 290.6 L243.8 288.1"/>
<use href="#scr" transform="translate(267 302.5) rotate(211)"/>
<!-- dash-dot from window notch to grey bracket -->
<path class="k" d="M309.2 230.2 L310.5 235.2"/>
<path class="cd" d="M310.5 235.2 L401.4 288.4"/>
<path class="k" d="M401.4 288.4 L401.4 300.9 M401.4 304.5 L401.4 314"/>
<!-- grey bracket -->
<g class="g">
<path d="M396.4 301.6 L424.7 286.5 L434.1 281.4 L443.6 287.7 L442.9 292.8 L427.2 300.9 L424 299.1 L411.5 305.5 L410.8 306 L400.8 305.3 C397 304.5 395.8 303 396.4 301.6 Z"/>
<ellipse cx="400.8" cy="302" rx="4.2" ry="2.1"/>
<path d="M424.7 286.5 L424.7 298.4 M429.1 287 L429.1 298.4 M424.7 298.4 Q427 299.6 429.1 298.4 M411.5 296 L411.5 305.5 M410 294.2 L410 299"/>
<path d="M424.7 286.5 Q427 285.2 429.1 287 M434.1 281.4 L434.1 286"/>
</g>
<path class="k" d="M409.3 296.5 L409.3 299.5 M431.5 282 L431.5 285 M433.8 283.5 L433.8 286.5"/>
<use href="#gscr" x="401.4" y="312"/>
<!-- second dash-dot -->
<path class="k" d="M428.5 268.2 L426.6 286.5"/>
<path class="cd" d="M428.5 268.2 L571.3 349.4" stroke-dashoffset="9"/>
<path class="k" d="M571.3 349.4 L572.3 328.5"/>
<!-- 170/171/172 -->
<path class="k" d="M413.4 295.9 L437.9 310.4 M441.7 312.3 L455.5 320.4 M465.6 326.1 L479.4 333.7"/>
<path class="k" stroke-dasharray="9 3" d="M411.5 302.2 L436.6 315.4"/>
<path class="t" d="M437 311.5 L438 308.3 L443 306 C444.6 306 445 307 444.5 308 L441 311 L440.5 316.5 C441.8 317.5 442 319 441.4 320 L439.2 320.5 L436.8 319 Z"/>
<use href="#wash" transform="translate(461.8 324) rotate(30)"/>
<use href="#hexb" transform="translate(495.2 343.1) rotate(211.6)"/>
<!-- third dash-dot from (598.7,219.4) -->
<path class="k" d="M598.7 219.4 L597 235.8"/>
<path class="cd" d="M598.7 219.4 L778.4 322.8" stroke-dashoffset="4"/>
<!-- 102 clip -->
<path class="k" d="M585.3 246.1 L584.3 263.2 M596.3 243.1 L596.3 256.2 M596.3 267.2 L596.3 274.3 M574.2 274.3 L573.8 292.3 M583.9 265.2 L582.7 312.4"/>
<path class="t" d="M571.2 264.2 L583.3 259.2 L588.3 261.2 L587.3 264.2 L580.2 265.2 L578.2 268.6 L573.2 268.2 Z"/>
<ellipse cx="584.6" cy="262.4" rx="2.6" ry="1.3" class="k"/>
<!-- grey plate -->
<g class="g">
<path stroke-dasharray="5 2 1.5 2" d="M544.1 297.3 L598.3 272.2 L602.3 275.3 L591 281.2 L588.5 284.6 L580.5 284.2 L577 287.4 L550.1 301.4 C546 301.6 544 299.8 544.1 297.3 Z"/>
<path d="M568.2 292.3 L570 301.5 C572.5 304 576 304 578.4 302.4 L580.2 294.5 C577 291.3 571.5 290.3 568.2 292.3 Z M570.5 294.5 C573.5 293.6 576.6 294.4 578.4 296.2"/>
</g>
<circle cx="551" cy="298" r=".8" fill="#666"/><circle cx="558" cy="294.8" r=".8" fill="#666"/><circle cx="588" cy="279" r=".8" fill="#666"/><circle cx="594" cy="276.5" r=".8" fill="#666"/>
<path class="g" d="M548.1 301.8 L548.1 308.4"/>
<use href="#gscr" x="548.1" y="308.4"/>
<!-- 100 part -->
<path d="M566.5 317 L569 313.6 L572.6 315.4 L574.2 311.8 L578 311.6 L579 314.4 L582.4 312.6 L585.4 313.8 L586 317 L589.6 316.4 L590.4 319.8 L587.4 322.4 L583 321.8 L581 324.8 L576.6 324.2 L574 326 L570.4 324 L567.4 321.4 Z" fill="#111"/>
<path d="M571 317.4 L573.6 316.6 L574.4 319.4 L571.8 320.4 Z M577.6 314.6 L580.6 314 L581 317 L578.2 317.8 Z M583.4 316.6 L585.8 317 L585.4 319.6 L583 319.2 Z" fill="#fff"/>
<path class="t" d="M590.3 314.4 L598.3 310.4 L599.3 314.4 L592.3 318.4 Z"/>
<path class="k" d="M580.2 325.5 L602.3 327.5 L603.3 332.5"/>
<!-- screw 101 -->
<path d="M601.5 332.5 L608.3 332.5 L608.3 349 L601.5 349 Z" fill="#fff" stroke="#000" stroke-width="1"/>
<path class="k" d="M601.5 334.8 L608.3 334 M601.5 337 L608.3 336.2 M601.5 339.2 L608.3 338.4 M601.5 341.4 L608.3 340.6 M601.5 343.6 L608.3 342.8 M601.5 345.8 L608.3 345 M601.5 348 L608.3 347.2"/>
<path d="M601.5 348.6 L598.7 352.4 C599.3 356.8 611.3 356.8 611.7 352.4 L608.3 348.6 Z" fill="#fff" stroke="#000" stroke-width="1.1"/>
</g>
<g id="right">
<!-- long dash-dot from roof to top right -->
<path class="cd" d="M1070.6 289.6 L1324.9 144.1" stroke-dashoffset="6"/>
<path class="cd" d="M1324.9 144.1 L1325.2 265.6"/>
<path class="k" d="M1325.9 287 L1325.9 301.7 M1274.7 259.9 L1274.7 269.7"/>
<!-- washer / nut / buffer -->
<path class="k" d="M1238.5 210.2 L1250 206.5 M1260 203.2 L1271 199.5 M1284.5 195 L1290.9 192.7 M1231.5 212.2 L1247.9 222.1 M1228.2 235.2 L1241.3 231.1"/>
<use href="#wash" transform="translate(1255.4 204.9) rotate(-20)"/>
<use href="#nut" transform="translate(1278 197.3) rotate(-20)"/>
<use href="#buf" transform="translate(1212.5 241.4) rotate(-17)"/>
<!-- grey bracket -->
<g fill="none" stroke="#5e5e5e" stroke-width=".85" stroke-linejoin="round">
<path d="M1236.4 227.8 L1269.5 214.6 C1271 213.7 1272.2 213.6 1273.5 214.4 L1341.5 252.3 C1342.8 253 1343.2 254 1343.2 255.3 L1343.2 267.3 L1333.3 269.7"/>
<path d="M1236.4 227.8 L1237.2 230.3 L1241.3 232.8 L1242.2 241 L1272.6 256.6 C1271.8 254.5 1272.8 253.2 1274.3 253.4 C1276 254.5 1276.6 257.5 1276.8 260.6 L1287.3 267.3 C1287 265.4 1288 264.4 1289.4 264.8 C1291.5 266 1293 268.2 1294 271 L1297.2 272.2 L1305.4 277.1 L1356.3 308.3"/>
<path d="M1241.3 232.8 L1253 227.8 L1241 220.5 M1241.3 232.8 L1272.6 250.8 L1298.8 262.3 L1308.7 256.6 L1325.1 250.8 L1343.2 255.3"/>
<path d="M1270.1 244.3 L1297.2 234.4 L1325.1 250 L1297.2 260.7 Z M1279.9 246.7 L1300.5 239.3 L1318.5 248.4 L1293.9 254.9 Z M1308.7 256.6 L1312 264 M1298.8 262.3 L1301 266.5 L1307 263.5"/>
<ellipse cx="1322.6" cy="266.4" rx="10" ry="4.4" transform="rotate(-8 1322.6 266.4)"/>
<path d="M1333.3 269.7 L1343.2 290.3 L1361.2 303.4 L1371.1 317.4 L1376.8 315.7 L1374.4 310 L1351.4 283.7 L1344.8 272.2 M1364.5 305.5 L1366 310.5 L1371 316 M1344.8 281.5 L1347.6 286 L1350 284.5"/>
</g>
<g fill="#222"><circle cx="1276.8" cy="221.6" r=".8"/><circle cx="1289.8" cy="225.4" r=".8"/><circle cx="1276.6" cy="244.2" r=".8"/><circle cx="1283.4" cy="241.6" r=".8"/><circle cx="1291.6" cy="239" r=".8"/><circle cx="1299" cy="236.6" r=".8"/><circle cx="1296.6" cy="254" r=".8"/><circle cx="1303.8" cy="252.6" r=".8"/><circle cx="1312" cy="250" r=".8"/><circle cx="1319.4" cy="247.6" r=".8"/><circle cx="1317.6" cy="264.4" r=".8"/><circle cx="1325.4" cy="266.4" r=".8"/><circle cx="1297.6" cy="257.6" r=".8"/></g>
<path class="n" d="M1276.8 216 L1276.8 221.6 M1289.8 222.4 L1289.8 225.4 M1276.6 242 L1276.6 244.2 M1283.4 239.4 L1283.4 241.6 M1291.6 236.8 L1291.6 239 M1299 234.4 L1299 236.6 M1296.6 251.8 L1296.6 254 M1303.8 250.4 L1303.8 252.6 M1312 247.8 L1312 250 M1319.4 245.4 L1319.4 247.6 M1317.6 261 L1317.6 264.4 M1239.5 238.6 L1243 237.4 M1239.5 242.7 L1243 241.5"/>
<use href="#gscr" x="1274.8" y="269.7"/>
<use href="#gscr" x="1325.9" y="301.7"/>
<!-- dash-dot lines lower -->
<path class="k" d="M1208.4 331.1 L1210 330.2 M1216.6 326.6 L1243.4 312 M1248 309.4 L1250 308.3 M1254.6 305.8 L1277.5 290.3 M1284.9 287 L1286.9 285.9 M1292.3 282.9 L1305.4 275.5 M1295.5 276.3 L1303.8 272.2 M1299 279 L1307 274.7"/>
<path class="k" d="M1271.7 357.9 L1279 353 M1292.4 345.2 L1296 343.5 M1303.3 339.6 L1330 325 M1334.8 322.4 L1336.8 321.3 M1341.5 318.9 L1361.2 308.6 M1354.7 308.3 L1361.2 305 M1358 311.5 L1365 307.8 M1376 306.7 L1394 296.8 M1398.5 294.3 L1400.5 293.2 M1406 290.3 L1428 278.3 M1429.5 283.2 L1432.6 280.7"/>
<path class="k" d="M1351.4 282 L1367.8 273 M1372.4 270.4 L1374.4 269.3 M1379.3 266.6 L1394.1 258.5 M1398.8 256 L1400.8 254.9 M1405.6 252.3 L1408.2 249.1"/>
<path class="k" d="M1358 315.7 L1377.7 328 M1383 331 L1404.6 342.7 L1386.3 352.5"/>
<path class="k" d="M1361.7 368.8 L1372.6 362.2"/>
<!-- right rail (grey) -->
<g class="g">
<path d="M1144.8 258.7 L1294.4 344.4 M1144.8 260.9 L1293 346 M1144.8 264.1 L1290 348.5 M1170 272.5 L1178 277 M1172 275.5 L1288 341.5 M1294.4 344.4 L1295 349.5 L1291.8 351.5 L1290 348.5 M1172.6 273.5 L1172.6 277.8"/>
</g>
<path d="M1176.4 283 L1231 314.6 L1230.5 316.2 L1175.8 284.6 Z" fill="#222"/>
<path class="k" d="M1160.6 287.2 L1175.2 278.7 M1177.6 277.4 L1187.3 271.7 M1160.6 287.2 L1176.5 296.2 M1182 299.3 L1184 300.4 M1189.5 303.5 L1211.5 316 M1222.6 322.5 L1237.2 313.9 M1239.6 312.6 L1244 309.6 M1222.6 322.5 L1217 319.3 M1171 273.5 L1178.8 269.4 M1179.5 277.5 L1186.5 273.6 M1231.5 310.5 L1240 305.6 M1240.5 314.5 L1248.8 309.6"/>
<path class="k" d="M1275 360.2 L1293.2 349.2"/>
<!-- screws 81, 82 right -->
<g transform="translate(1189.6 343.6) rotate(-28.5)">
<path d="M3 -2.7 L20 -2.7 Q21.4 0 20 2.7 L3 2.7 Z" fill="#fff" stroke="#000" stroke-width="1"/>
<path d="M8 -2.7 L8.8 2.7 M9.8 -2.7 L10.6 2.7 M11.6 -2.7 L12.4 2.7 M13.4 -2.7 L14.2 2.7 M15.2 -2.7 L16 2.7 M17 -2.7 L17.8 2.7 M18.8 -2.7 L19.6 2.7" fill="none" stroke="#000" stroke-width=".9"/>
<path d="M7 -2.7 L1.5 -5.8 L-1 -5.8 C-5 -5.8 -5 5.8 -1 5.8 L1.5 5.8 L7 2.7 Z" fill="#fff" stroke="#000" stroke-width="1.2"/>
<ellipse cx="-1" cy="0" rx="3.4" ry="5.7" fill="none" stroke="#000" stroke-width=".9"/>
<ellipse cx="-1" cy="0" rx="1.6" ry="2.6" fill="none" stroke="#000" stroke-width=".8"/>
</g>
<g transform="translate(1254.8 370) rotate(-27.5)">
<path d="M3 -2.7 L17 -2.7 Q18.4 0 17 2.7 L3 2.7 Z" fill="#fff" stroke="#000" stroke-width="1"/>
<path d="M11.6 -2.7 L12.4 2.7 M13.4 -2.7 L14.2 2.7 M15.2 -2.7 L16 2.7" fill="none" stroke="#000" stroke-width=".9"/>
<path d="M6 -5.8 L-1 -5.8 C-5.2 -5.8 -5.2 5.8 -1 5.8 L6 5.8 C8.6 5.8 8.6 -5.8 6 -5.8 Z" fill="#fff" stroke="#000" stroke-width="1.2"/>
<ellipse cx="-1" cy="0" rx="3.4" ry="5.8" fill="none" stroke="#000" stroke-width=".9"/>
<ellipse cx="-1" cy="0" rx="1.7" ry="2.8" fill="none" stroke="#000" stroke-width=".8"/>
</g>
<!-- 202 lower bolt, 201 lower washer -->
<use href="#hexb" transform="translate(1345.9 377.3) rotate(-28)"/>
<use href="#wash" transform="translate(1378.7 357.9) rotate(-25)"/>
<path class="k" d="M1384.8 353 L1404.3 342.8"/>
</g>
<g id="p200">
<path class="t" d="M1405.9 241.7 L1410.4 239.6 L1412.1 231.2 L1501.3 281.5 C1503.5 282 1505 283.4 1505.5 285 L1504.1 291.5 L1472.6 303.9 L1471.9 296.2 L1476.8 292.7 L1478.9 296.2 C1480.5 298 1481.8 298.2 1483.1 297.6 C1485 296.6 1486 295.6 1487.3 294.1 L1492.9 285.7 C1494.5 283.6 1496 282.6 1497.8 282.2 L1501.3 281.5"/>
<path class="t" d="M1405.9 241.7 L1408.3 245.9 L1433.5 276.6 M1434.9 275.2 L1471.9 296.2 M1434.9 282.9 L1472.6 303.9"/>
<path class="k" d="M1410.4 239.6 L1492.9 285.7 M1434.2 267.6 L1434.2 275.4 M1434.9 283 L1434.9 288.6 M1406.2 250.1 L1415.3 245.9 M1429.3 282.2 L1437 278.7 M1431.5 272 L1437 275.5"/>
<path class="k" d="M1415.7 250 L1415.7 273.8 M1415.7 276.5 L1415.7 283 M1415.7 289 L1415.7 300 M1499.2 285.7 L1512.5 293.4 M1523.7 299 L1532.8 303.9"/>
<circle cx="1416.2" cy="250.2" r="1.1"/>
<!-- washer 201 mid (flat) -->
<ellipse cx="1415.7" cy="285" rx="8" ry="4.1" fill="#fff" stroke="#000" stroke-width="1.1"/>
<ellipse cx="1415.7" cy="283.4" rx="8" ry="4.1" fill="#fff" stroke="#000" stroke-width="1.4"/>
<ellipse cx="1415.7" cy="283.4" rx="4" ry="2" fill="none" stroke="#000" stroke-width=".9"/>
<path class="k" d="M1415.7 277 L1415.7 283.4"/>
<!-- bolt 202 vertical -->
<path d="M1412.6 300.4 Q1415.7 298.8 1418.8 300.4 L1418.8 314 L1412.6 314 Z" fill="#fff" stroke="#000" stroke-width="1"/>
<path class="k" d="M1412.6 303 L1418.8 302.4 M1412.6 305.2 L1418.8 304.6 M1412.6 307.4 L1418.8 306.8 M1412.6 309.6 L1418.8 309"/>
<path d="M1409 315.4 L1411.6 313.2 L1419.6 313.2 L1422.3 315.4 L1422.3 320.4 L1418.6 323.6 L1412.4 323.6 L1409 320.4 Z" fill="#fff" stroke="#000" stroke-width="1.3" stroke-linejoin="round"/>
<path class="k" d="M1409 315.4 L1412.4 317.6 L1418.6 317.6 L1422.3 315.4 M1412.4 317.6 L1412.4 323.6 M1418.6 317.6 L1418.6 323.6"/>
<!-- washer 201 right, bolt 203 -->
<use href="#wash" transform="translate(1520.2 296.9) rotate(28)"/>
<use href="#hexb" transform="translate(1548.1 313) rotate(210.5)"/>
</g>
<g id="misc">
<path class="k" d="M964.2 437.2 L970.0 440.4 M973.0 442.1 L987.6 450.3 M993.2 453.4 L994.6 454.2 M1000.2 457.3 L1014.8 465.4 M1020.1 468.4 L1021.5 469.2 M1026.5 472.0 L1041.3 480.2 M1046.9 483.3 L1048.3 484.1 M1053.5 487.0 L1068.3 495.3 M1073.9 498.4 L1075.3 499.2 M1080.5 502.1 L1095.0 510.2"/><path class="k" d="M1124.4 366.8 L1134.2 361.6 M1128.3 371.4 L1138.1 366.2"/>
</g>
<g id="labels" class="lb">
<text x="216" y="57.9">141</text>
<text x="152" y="113.5">140</text>
<text x="58.2" y="141.8">141</text>
<text x="546" y="101.4">80</text>
<text x="146.5" y="359.9">80</text>
<text x="279.1" y="270.5">150</text>
<text x="298" y="309">151</text>
<text x="439.3" y="222.2">150</text>
<text x="482.1" y="238.1">151</text>
<text x="404.7" y="361.3">170</text>
<text x="441.7" y="383.5">171</text>
<text x="479.4" y="392.5">172</text>
<text x="634" y="283.6">102</text>
<text x="632.7" y="323.6">100</text>
<text x="630.3" y="369.3">101</text>
<text x="584" y="495.4">70</text>
<text x="429.6" y="541.6">72</text>
<text x="471.4" y="529.7">71</text>
<text x="662.3" y="670">60</text>
<text x="460.5" y="686.6">10</text>
<text x="1251.8" y="145.3">72</text>
<text x="1210" y="164.7">71</text>
<text x="1163.7" y="193.2">70</text>
<text x="1446.5" y="214.3">200</text>
<text x="1502.4" y="257.6">201</text>
<text x="1543.3" y="267.3">203</text>
<text x="1443.3" y="330.6">201</text>
<text x="1426.5" y="365.9">202</text>
<text x="1200.4" y="387.8">81</text>
<text x="1266.8" y="409.7">82</text>
<text x="1397.5" y="406.5">201</text>
<text x="1356.8" y="421.1">202</text>
<text x="1120.5" y="517.5">122</text>
<text x="1116.5" y="595.4">120</text>
<text x="1008.8" y="618.6">121</text>
<text x="895.7" y="580.1">130</text>
<text x="834.7" y="590.6">81</text>
<text x="878" y="642.2">82</text>
</g>
<g id="leaders" class="k">
<path d="M246.9 66.9 L260.8 82.7 M179.2 124.2 L190.3 141.8 M85.2 151.2 L96.8 170.7 M541 111.7 L527.2 125.6 M174.5 343.4 L202.2 327.1"/>
<path d="M278.4 271.7 L249.4 281.8 M297.3 300.7 L272.1 300.7 M468.8 198.3 L486 176 M508.5 214 L519.8 195.7"/>
<path d="M428.9 337.7 L438.7 319.5 M457.6 359.6 L458.9 329.2 M495.1 368.1 L495.1 348.7"/>
<path d="M633.3 315.8 L596.8 312.2 M629.7 357.2 L611.4 349.9 M635 274.5 L588 260.5"/>
<path d="M455 552.8 L470.8 569.1 M486.6 539.9 L493.9 560.6 M590 505.8 L585.2 522.8 M657 645.7 L647.2 637.2 M485.4 662.7 L502 641.3"/>
<path d="M1266.5 155.7 L1275 190.3 M1233.2 175.2 L1253.1 198.8 M1186.2 203.2 L1209.3 235.3"/>
<path d="M1456.9 224.7 L1448.4 250.3 M1520.1 268.5 L1523.8 290.4 M1556.6 277.1 L1550.6 308.7 M1442.8 308.7 L1421.6 289.2 M1433.3 342.7 L1420.4 322.1"/>
<path d="M1202.3 363.9 L1193.3 349.3 M1266.3 385.8 L1258.3 376.1 M1399.4 382.2 L1383.6 363.9 M1360.5 396.8 L1349.5 383.4"/>
<path d="M828.1 585.7 L805 588.7 M871.9 631.2 L852 627.1 M924.2 556.5 L937.6 540 M1041 619.8 L1060 628.8"/>
</g>
<g id="circles">
<circle cx="292.8" cy="376.8" r="14.4" fill="#fff" stroke="#000" stroke-width="1.7"/>
<text x="292.8" y="385.2" font-size="23" font-weight="bold" text-anchor="middle">A</text>
<circle cx="633.8" cy="189.3" r="14.4" fill="#fff" stroke="#000" stroke-width="1.7"/>
<text x="634.2" y="197.7" font-size="23" font-weight="bold" text-anchor="middle">B</text>
<circle cx="814" cy="668.5" r="14.4" fill="#fff" stroke="#000" stroke-width="1.7"/>
<text x="814" y="676.9" font-size="23" font-weight="bold" text-anchor="middle">A</text>
<circle cx="1305.8" cy="362.6" r="14.4" fill="#fff" stroke="#000" stroke-width="1.7"/>
<text x="1306.2" y="371" font-size="23" font-weight="bold" text-anchor="middle">B</text>
</g>
<g id="title">
<text x="207.5" y="793.7" font-size="24" font-weight="bold">SUPER 1800-3 SprayJet</text>
<g fill="none" stroke="#222" stroke-width="0.9" stroke-linejoin="round">
<path d="M30.9 752.7 L104.8 742.1 L86.7 784 L70.8 772.6 L40.1 793.2 L15.3 779.3 L45.4 761.8 Z"/>
<path d="M39.5 753.6 L100.3 745.1 L84.7 779.7 L70.8 769.6 L40.7 789.6 L21.8 779.3 L51.9 761.4 Z"/>
<path d="M30.9 752.7 L30.9 762.2 L38.4 766.1 M15.3 779.3 L15.3 788.7 L40.1 802.9 L40.1 793.2 M40.1 802.9 L70.8 785.2 L70.8 772.6 M70.8 785.2 L86.7 793.5 L86.7 784 M86.7 793.5 L105.4 750.4 L104.8 742.1"/>
</g>
</g>
<g id="bluedots" fill="#7070f0">
<circle cx="1564" cy="13" r="2"/><rect x="1566" y="8" width="6" height="4" rx="2"/><rect x="1576" y="11" width="3" height="4"/><rect x="1580" y="11" width="3" height="4"/><circle cx="1586" cy="13" r="2"/>
</g>
<g class="k">
<path d="M1121.5 514.2 L1088.3 526.3 M1117.7 588.9 L1088.3 589.5 M1041.8 620.4 L1069.9 632.3"/>
</g>

</svg>
</body></html>
